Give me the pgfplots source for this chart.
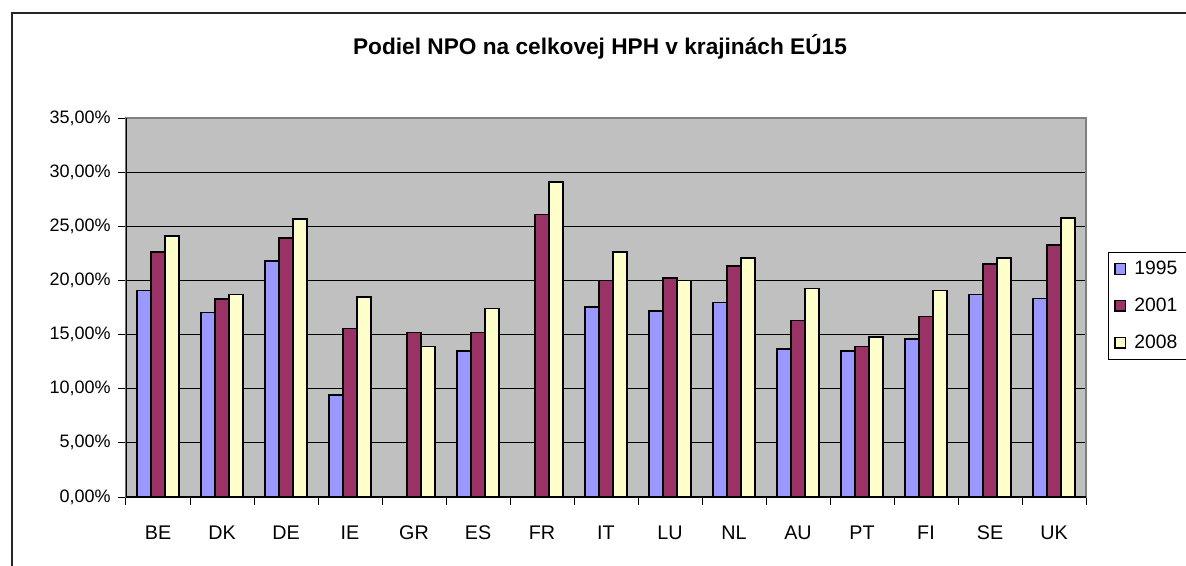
\documentclass[border=0pt]{standalone}
\usepackage{pgfplots}
\pgfplotsset{compat=1.18}
\usepackage{fontspec}
\setmainfont{Liberation Sans}
\definecolor{c95}{HTML}{9999FF}
\definecolor{c01}{HTML}{993366}
\definecolor{c08}{HTML}{FFFFCC}
\definecolor{bg}{HTML}{C0C0C0}
\begin{document}
\begin{tikzpicture}[x=0.75pt,y=0.75pt]
\path[use as bounding box] (0,0) rectangle (1186,565);
\draw[line width=1.5pt,black!85] (12,-5) -- (12,552) -- (1200,552);
\node[font=\fontsize{17}{20}\selectfont\bfseries] at (600,518) {Podiel NPO na celkovej HPH v krajinách EÚ15};
\begin{axis}[
  at={(94.5pt,51pt)}, anchor=south west,
  scale only axis, width=720pt, height=284.25pt,
  xmin=-0.5, xmax=14.5, ymin=0, ymax=35,
  ytick={0,5,...,35},
  xtick={0,...,14},
  xticklabels={BE,DK,DE,IE,GR,ES,FR,IT,LU,NL,AU,PT,FI,SE,UK},
  minor xtick={-0.5,0.5,...,14.5},
  tick pos=left,
  major x tick style={draw=none},
  minor x tick style={black, line width=0.75pt},
  y tick style={black, line width=0.75pt},
  tick align=outside,
  major tick length=6pt, minor tick length=6pt,
  ymajorgrids, grid style={black, line width=0.75pt},
  axis background/.style={fill=bg},
  axis line style={draw=gray, line width=1pt},
  ybar=0pt, bar width=0.222,
  yticklabel style={font=\fontsize{13.5}{16}\selectfont, xshift=-2pt},
  xticklabel style={font=\fontsize{14.8}{17}\selectfont, anchor=base, yshift=-26pt},
  /pgf/number format/assume math mode=true,
  yticklabel={\pgfmathprintnumber[fixed,fixed zerofill,precision=2,use comma]{\tick}\%},
  legend style={at={(1.0229,0.6464)}, anchor=north west, draw=black, line width=0.75pt,
    font=\fontsize{14.5}{17}\selectfont, row sep=12pt, inner sep=4.5pt,
    legend cell align=left,
    /tikz/every odd column/.append style={column sep=4pt}},
  legend image code/.code={\draw[#1, line width=1pt] (0pt,-4pt) rectangle (8pt,4pt);},
]
\addplot[fill=c95, draw=black, line width=1.3pt] coordinates {
(0,19.07) (1,17.04) (2,21.8) (3,9.4) (5,13.5) (7,17.56) (8,17.2) (9,17.96) (10,13.7) (11,13.5) (12,14.6) (13,18.7) (14,18.33)};
\addplot[fill=c01, draw=black, line width=1.3pt] coordinates {
(0,22.6) (1,18.3) (2,23.9) (3,15.55) (4,15.2) (5,15.2) (6,26.1) (7,20.0) (8,20.2) (9,21.3) (10,16.3) (11,13.9) (12,16.67) (13,21.5) (14,23.3)};
\addplot[fill=c08, draw=black, line width=1.3pt] coordinates {
(0,24.07) (1,18.7) (2,25.7) (3,18.5) (4,13.9) (5,17.4) (6,29.07) (7,22.6) (8,20.0) (9,22.04) (10,19.26) (11,14.8) (12,19.07) (13,22.04) (14,25.74)};
\legend{1995\hspace*{20pt},2001\hspace*{20pt},2008\hspace*{20pt}}
\draw[black, line width=1pt] (rel axis cs:0,1) -- (rel axis cs:0,0) -- (rel axis cs:1,0);
\end{axis}
\end{tikzpicture}
\end{document}
